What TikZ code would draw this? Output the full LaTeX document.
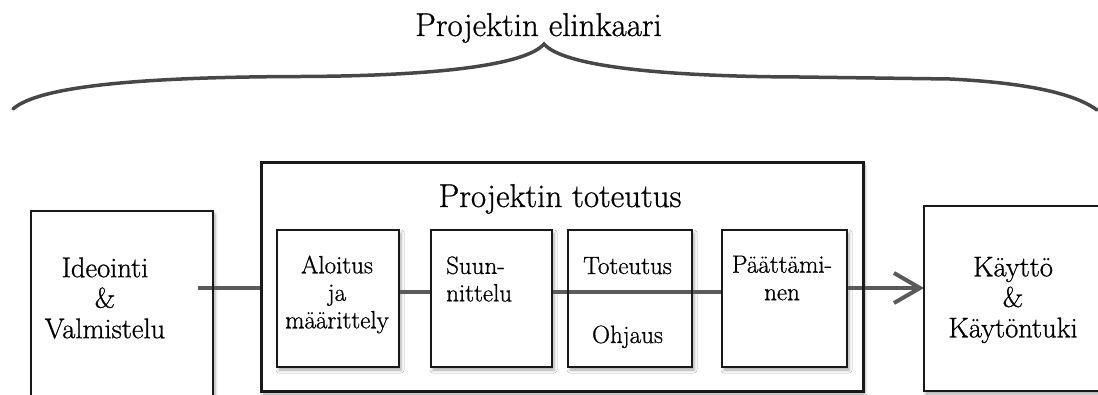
\documentclass[tikz,border=0pt]{standalone}
\usepackage{fontspec}
\setmainfont{Latin Modern Roman}[FakeBold=0.8]
\usetikzlibrary{arrows.meta,shadows.blur}
\definecolor{connc}{HTML}{5A5A5A}
\definecolor{bracec}{HTML}{474747}
\begin{document}
\begin{tikzpicture}[x=1pt,y=-1pt,
  box/.style={draw=none, fill=white, inner sep=0pt, outer sep=0pt,
    blur shadow={shadow xshift=2pt, shadow yshift=-3pt,
      shadow blur radius=3pt, shadow opacity=35}},
  frame/.style={draw=black!90, line width=2.6pt},
  connector/.style={draw=connc, line width=4pt},
  bigtext/.style={inner sep=0pt, font=\fontsize{33}{38}\selectfont},
  outertext/.style={inner sep=0pt, align=center, font=\fontsize{28.5}{30.5}\selectfont},
  innertext/.style={inner sep=0pt, font=\fontsize{25}{27.5}\selectfont},
]
\clip (0,0) rectangle (1098,394);

% title and brace
\node[bigtext, anchor=base] (title) at (538.5,36) {Projektin elinkaari};
\draw[draw=bracec, line width=3.5pt, line cap=round, line join=miter]
  (13,109) .. controls (40,85) and (150,77) .. (300,76.5)
  .. controls (430,76) and (525,66) .. (544,44)
  .. controls (563,66) and (660,76.5) .. (800,77)
  -- (950,79) .. controls (1010,82) and (1070,90) .. (1097,110);

% boxes (shadow and white fill)
\node[box, minimum width=182pt, minimum height=220pt] (ideo) at (122,321) {};
\node[box, minimum width=602pt, minimum height=229pt] (proj) at (562,276.5) {};
\node[box, minimum width=122pt, minimum height=137pt] (alo) at (338,298.5) {};
\node[box, minimum width=121pt, minimum height=137pt] (suun) at (491.5,298.5) {};
\node[box, minimum width=124pt, minimum height=137pt] (tot) at (630,298.5) {};
\node[box, minimum width=125pt, minimum height=137pt] (paa) at (784.5,298.5) {};
\node[box, minimum width=216pt, minimum height=185pt] (kay) at (1032,298.5) {};

% flow line
\coordinate (start) at (198,288);
\coordinate (mid) at (0,292);
\draw[connector] (start) -- (proj.west |- start);
\draw[connector] (alo.east |- mid) -- (suun.west |- mid);
\draw[connector] (suun.east |- mid) -- (paa.west |- mid);
\draw[connector, -{Straight Barb[length=26pt, width=30pt, line width=4pt]}]
  (paa.east |- start) -- (kay.west |- start);

% box outlines on top of the flow line
\foreach \n in {ideo,alo,suun,tot,paa,kay}
  \draw[frame] (\n.south west) rectangle (\n.north east);
\draw[frame, line width=3pt] (proj.south west) rectangle (proj.north east);

% texts
\node[bigtext, anchor=base] (projtitle) at (560,207) {Projektin toteutus};
\node[outertext] (ideotxt) at (105,298) {Ideointi\\\&\\Valmistelu};
\node[innertext, align=center] (alotxt) at (337,294.5) {Aloitus\\ja\\määrittely};
\node[innertext, align=left, anchor=west] (suuntxt) at (446,279) {Suun-\\nittelu};
\node[innertext, anchor=base] (tottxt) at (627.5,274) {Toteutus};
\node[innertext, anchor=base] (ohjtxt) at (627.5,343) {Ohjaus};
\node[innertext, align=center] (paatxt) at (782,278) {Päättämi-\\nen};
\node[outertext] (kaytxt) at (1013,300) {Käyttö\\\&\\Käytöntuki};
\end{tikzpicture}
\end{document}
